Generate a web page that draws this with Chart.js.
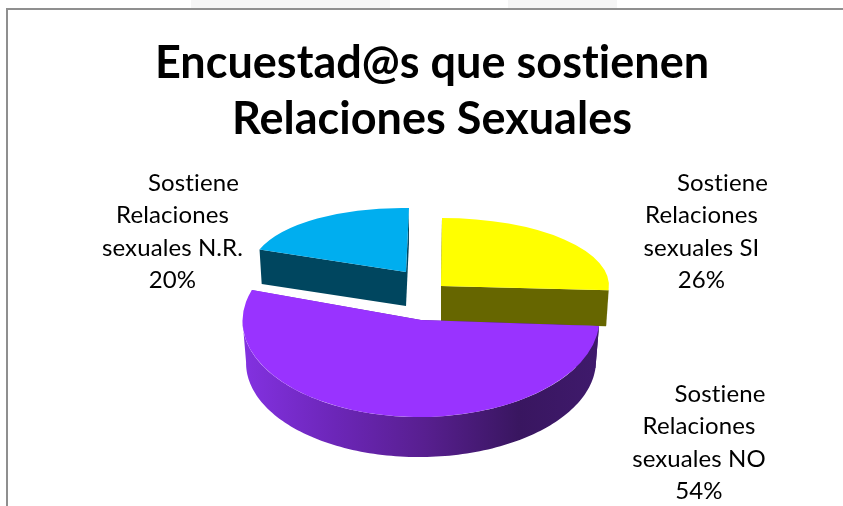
<!DOCTYPE html>
<html><head><meta charset="utf-8">
<style>html,body{margin:0;padding:0;background:#fff;overflow:hidden}#wrap{position:relative;width:843px;height:506px}</style>
<script src="https://cdn.jsdelivr.net/npm/chart.js@4"></script>
</head><body><div id="wrap"><canvas id="c" width="843" height="506"></canvas></div>
<script>
const titleLines = ["Encuestad@s que sostienen", "Relaciones Sexuales"];
const categories = ["Sostiene Relaciones sexuales SI", "Sostiene Relaciones sexuales NO", "Sostiene Relaciones sexuales N.R."];
const labelLines = [["Sostiene","Relaciones","sexuales SI"],["Sostiene","Relaciones","sexuales NO"],["Sostiene","Relaciones","sexuales N.R."]];
const values = [26, 54, 20];
const topColors = ["#ffff00", "#9933ff", "#00aeef"];
const wallColors = ["#666600", null, "#00465f"];
// view projection of each slice: unit circle -> screen [ax, ay, bx, by, ex, ey]
const projection = [
  [168, 0, -1, 68, 441, 286],
  [178.5, 0, -2, 97, 421, 320],
  [155, 2.8, -3, 64, 406, 272]
];
const wallDepth = [36, 42, 34];
const wallShrink = [0.985, 0.98, 0.985];
const labelPos = [[701.5, 183], [699, 394], [172.5, 183]];
const firstLineShift = 21;
const labelStep = 32.5;

function applyProj(ctx, arc, i, depth, s) {
  const p = projection[i], R = arc.outerRadius;
  ctx.transform(p[0]*s/R, p[1]*s/R, p[2]*s/R, p[3]*s/R, p[4], p[5] + depth);
  ctx.translate(-arc.x, -arc.y);
}
function pt(arc, i, ang, rad, depth, s) {
  const p = projection[i], c = Math.cos(ang), d = Math.sin(ang);
  return [p[4] + (p[0]*c + p[2]*d)*rad*s, p[5] + depth + (p[1]*c + p[3]*d)*rad*s];
}
function drawWall(ctx, arc, i) {
  const D = wallDepth[i], S = wallShrink[i];
  const st = arc.startAngle, en = arc.endAngle;
  let fill = wallColors[i];
  if (!fill) {
    const g = ctx.createLinearGradient(247, 0, 600, 0);
    g.addColorStop(0, "#8231df");
    g.addColorStop(0.25, "#6c26b8");
    g.addColorStop(0.5, "#581f90");
    g.addColorStop(0.77, "#391660");
    g.addColorStop(1, "#3f1a6c");
    fill = g;
  }
  ctx.fillStyle = fill;
  [st, en].forEach(a => {
    const q = [pt(arc,i,a,0,0,1), pt(arc,i,a,1,0,1), pt(arc,i,a,1,D,S), pt(arc,i,a,0,D,S)];
    ctx.beginPath(); q.forEach((v,k)=> k ? ctx.lineTo(v[0],v[1]) : ctx.moveTo(v[0],v[1])); ctx.closePath(); ctx.fill();
  });
  const a0 = Math.max(st, 0), a1 = Math.min(en, Math.PI);
  if (a1 > a0) {
    const n = 120, top = [], bot = [];
    for (let k = 0; k <= n; k++) {
      const a = a0 + (a1-a0)*k/n;
      top.push(pt(arc,i,a,1,0,1)); bot.unshift(pt(arc,i,a,1,D,S));
    }
    ctx.beginPath(); top.concat(bot).forEach((v,k)=> k ? ctx.lineTo(v[0],v[1]) : ctx.moveTo(v[0],v[1])); ctx.closePath(); ctx.fill();
  }
}
const pie3d = {
  id: "pie3d",
  beforeDraw(chart) {
    const c = chart.ctx;
    c.letterSpacing = "0.02px";
    c.save();
    c.fillStyle = "#f5f5f5"; c.fillRect(191,0,199,8); c.fillRect(508,0,109,8);
    c.fillStyle = "#8f8f8f"; c.fillRect(6,8,837,2); c.fillRect(6,8,2,498);
    c.restore();
  },
  beforeDatasetsDraw(chart) {
    const meta = chart.getDatasetMeta(0), c = chart.ctx;
    [2,0,1].forEach(i => { c.save(); drawWall(c, meta.data[i], i); c.restore(); });
    meta.data.forEach((arc, i) => {
      if (arc.draw === Chart.ArcElement.prototype.draw) {
        arc.draw = function(ctx, area) {
          ctx.save(); applyProj(ctx, this, i, 0, 1);
          Chart.ArcElement.prototype.draw.call(this, ctx, area);
          ctx.restore();
        };
      }
    });
  },
  afterDraw(chart) {
    const c = chart.ctx;
    c.save();
    c.letterSpacing = "0.1px";
    c.font = '24px "Lato"'; c.fillStyle = "#000"; c.textAlign = "center"; c.textBaseline = "middle";
    labelLines.forEach((ls, i) => {
      const [x, y] = labelPos[i];
      ls.concat([values[i] + "%"]).forEach((t, k) => c.fillText(t, x + (k === 0 ? firstLineShift : 0), y + k*labelStep));
    });
    c.restore();
  }
};
Chart.defaults.animation = false;
new Chart(document.getElementById("c"), {
  type: "pie",
  data: { labels: categories, datasets: [{ data: values, backgroundColor: topColors, borderWidth: 0 }] },
  options: {
    responsive: false, animation: false,
    layout: { padding: { top: 35, left: 21, right: 0, bottom: 0 } },
    plugins: {
      legend: { display: false }, tooltip: { enabled: false },
      title: { display: true, text: titleLines, color: "#000", font: { family: "Lato", size: 45, weight: "bold", lineHeight: 1.25 }, padding: 0 }
    }
  },
  plugins: [pie3d]
});
</script></body></html>
